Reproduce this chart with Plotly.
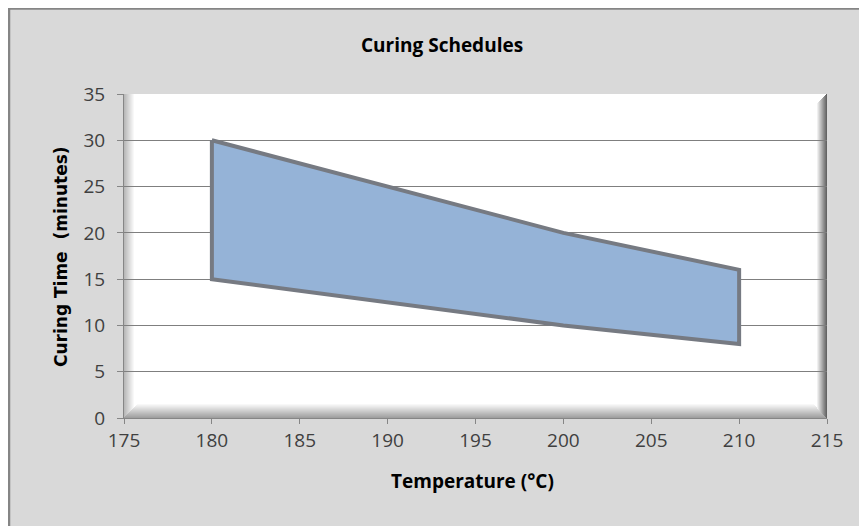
import plotly.graph_objects as go

# ---- data ----
temperature = [180, 190, 200, 210]
upper_time = [30, 25, 20, 16]
lower_time = [15, 12.5, 10, 8]
x_ticks = [175, 180, 185, 190, 195, 200, 205, 210, 215]
y_ticks = [0, 5, 10, 15, 20, 25, 30, 35]

# page is offset by the browser's default 8px body margin
OFF = 8
W, H = 867 - OFF, 526 - OFF
# plot area in page pixels: x 124..827, y 94..418
PL, PR, PT, PB = 124, 827, 94, 418
L, R, T, B = PL - OFF, W - (PR - OFF), PT - OFF, H - (PB - OFF)
X0, X1 = 175, 215
Y0, Y1 = 0, 35
pw, ph = W - L - R, H - T - B

def px2x(px):  # page px -> data x
    return X0 + (px - PL) / pw * (X1 - X0)

def py2y(py):  # page py -> data y
    return Y0 + (PB - py) / ph * (Y1 - Y0)

def ppx(px):  # page px -> paper x
    return (px - PL) / pw

def ppy(py):  # page py -> paper y
    return (PB - py) / ph

def mix(c1, c2, t):
    return "rgb(%d,%d,%d)" % tuple(round(a + (b - a) * t) for a, b in zip(c1, c2))

poly_x = temperature + temperature[::-1] + [temperature[0]]
poly_y = upper_time + lower_time[::-1] + [upper_time[0]]

fig = go.Figure()
fig.add_trace(go.Scatter(
    x=poly_x, y=poly_y, mode="lines", fill="toself",
    fillcolor="#95b3d7",
    line=dict(color="rgba(118,122,130,1)", width=4),
    hoverinfo="skip", showlegend=False,
))

shapes = []
# outer chart frame (left/top edges visible)
shapes.append(dict(type="rect", xref="paper", yref="paper",
                   x0=ppx(9), x1=ppx(900), y0=ppy(8.5), y1=ppy(560),
                   fillcolor="#d9d9d9", line=dict(color="#858585", width=2.5),
                   layer="below"))
# white plot area
shapes.append(dict(type="rect", xref="x", yref="y", x0=X0, x1=X1, y0=Y0, y1=Y1,
                   fillcolor="white", line=dict(width=0), layer="below"))
white = (255, 255, 255)
# left bevel
n = 10
for i in range(n):
    c = mix((185, 185, 185), white, i / n)
    shapes.append(dict(type="rect", xref="x", yref="y",
                       x0=px2x(PL + i), x1=px2x(PL + i + 1),
                       y0=py2y(PB - 1 - i), y1=Y1,
                       fillcolor=c, line=dict(width=0), layer="below"))
# bottom bevel
n = 14
for i in range(n):
    c = mix((160, 160, 160), white, i / n)
    shapes.append(dict(type="rect", xref="x", yref="y",
                       x0=px2x(PL + i), x1=px2x(PR - i),
                       y0=py2y(PB - i), y1=py2y(PB - i - 1),
                       fillcolor=c, line=dict(width=0), layer="below"))
# right bevel
n = 10
for i in range(n):
    c = mix((100, 100, 100), white, i / n)
    shapes.append(dict(type="rect", xref="x", yref="y",
                       x0=px2x(PR - i - 1), x1=px2x(PR - i),
                       y0=py2y(PB - i), y1=py2y(PT + i),
                       fillcolor=c, line=dict(width=0), layer="below"))

tick_font = dict(family="Open Sans, sans-serif", size=19, color="#404040")

fig.update_layout(
    width=W, height=H,
    margin=dict(l=L, r=R, t=T, b=B, pad=0),
    paper_bgcolor="white", plot_bgcolor="white",
    shapes=shapes,
    xaxis=dict(range=[X0, X1], tickvals=x_ticks, ticks="outside", ticklen=5,
               tickcolor="#868686", showline=True, linecolor="#868686", linewidth=1,
               showgrid=False, zeroline=False, tickfont=tick_font, fixedrange=True),
    yaxis=dict(range=[Y0, Y1], tickvals=y_ticks, ticks="outside", ticklen=6,
               tickcolor="#868686", showline=True, linecolor="#868686", linewidth=1,
               showgrid=True, gridcolor="#7f7f7f", gridwidth=1, zeroline=False,
               tickfont=tick_font, ticklabelstandoff=8, fixedrange=True),
    annotations=[
        dict(text="<b>Curing Schedules</b>", xref="paper", yref="paper",
             x=ppx(442), y=ppy(45), xanchor="center", yanchor="middle", showarrow=False,
             font=dict(family="Open Sans, sans-serif", size=19, color="#000000")),
        dict(text="<b>Temperature (°C)</b>", xref="paper", yref="paper",
             x=ppx(472), y=ppy(481), xanchor="center", yanchor="middle", showarrow=False,
             font=dict(family="Open Sans, sans-serif", size=19, color="#000000")),
        dict(text="<b>Curing Time  (minutes)</b>", xref="paper", yref="paper",
             x=ppx(61), y=ppy(257), xanchor="center", yanchor="middle",
             showarrow=False, textangle=-90,
             font=dict(family="DejaVu Sans, sans-serif", size=17, color="#000000")),
    ],
)

fig.write_html("out.html")
